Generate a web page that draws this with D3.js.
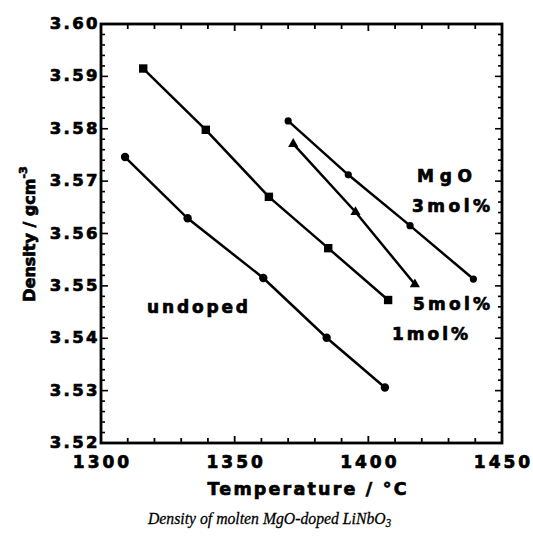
<!DOCTYPE html>
<html><head><meta charset="utf-8">
<script src="https://cdn.jsdelivr.net/npm/d3@7"></script>
<style>body{margin:0;background:#fff}svg{display:block}</style>
</head><body>
<svg id="c" width="533" height="538"></svg>
<script>
// ---- data ----
const undopedT = [1309, 1332.4, 1360.7, 1384.4, 1406.2];
const undopedD = [3.5746, 3.5629, 3.5515, 3.5401, 3.5306];
const mol1T = [1315.8, 1339.2, 1362.8, 1385.0, 1407.4];
const mol1D = [3.5915, 3.5798, 3.5670, 3.5572, 3.5473];
const mol3T = [1370.0, 1392.5, 1415.6, 1439.3];
const mol3D = [3.5815, 3.5712, 3.5615, 3.5513];
const mol5T = [1371.9, 1395.2, 1417.4];
const mol5D = [3.5771, 3.5641, 3.5503];
const xTickLabels = [1300, 1350, 1400, 1450];
const yTickLabels = [3.52, 3.53, 3.54, 3.55, 3.56, 3.57, 3.58, 3.59, 3.60];

const svg = d3.select("#c");
const x = d3.scaleLinear().domain([1300, 1450]).range([101, 502]);
const y = d3.scaleLinear().domain([3.52, 3.60]).range([443, 24]);
const FONT = "'DejaVu Sans', Verdana, sans-serif";

// minor / major ticks
const xMinor = d3.range(1300, 1451, 10);
const yMinor = d3.range(0, 41).map(i => 3.52 + i * 0.002);
const g = svg.append("g").attr("stroke", "#000").attr("fill", "none");
xMinor.forEach(v => {
  const L = (Math.round(v) % 50 === 0) ? 7 : 5;
  g.append("line").attr("x1", x(v)).attr("x2", x(v)).attr("y1", y(3.52)).attr("y2", y(3.52) - L).attr("stroke-width", 1.8);
  g.append("line").attr("x1", x(v)).attr("x2", x(v)).attr("y1", y(3.60)).attr("y2", y(3.60) + L).attr("stroke-width", 1.8);
});
yMinor.forEach((v, i) => {
  const L = (i % 5 === 0) ? 7 : 4;
  g.append("line").attr("x1", x(1300)).attr("x2", x(1300) + L).attr("y1", y(v)).attr("y2", y(v)).attr("stroke-width", 1.6);
  g.append("line").attr("x1", x(1450)).attr("x2", x(1450) - L).attr("y1", y(v)).attr("y2", y(v)).attr("stroke-width", 1.6);
});
// frame
svg.append("rect").attr("x", x(1300)).attr("y", y(3.60))
  .attr("width", x(1450) - x(1300)).attr("height", y(3.52) - y(3.60))
  .attr("fill", "none").attr("stroke", "#000").attr("stroke-width", 2.8);

const heavy = sel => sel.attr("font-family", FONT).attr("font-weight", "bold")
  .attr("stroke", "#000").attr("stroke-width", 0.7).attr("fill", "#000");

// tick labels
svg.append("g").selectAll("text").data(xTickLabels).join("text")
  .attr("x", d => x(d) + 1.5).attr("y", 468).attr("text-anchor", "middle")
  .attr("font-size", 17).attr("letter-spacing", 3).call(heavy).text(d => d);
svg.append("g").selectAll("text").data(yTickLabels).join("text")
  .attr("x", 100).attr("y", d => y(d) + 5).attr("text-anchor", "end")
  .attr("font-size", 16.5).attr("letter-spacing", 2.4).call(heavy).text(d => d.toFixed(2));

// axis titles
svg.append("text").attr("x", 307).attr("y", 495).attr("text-anchor", "middle")
  .attr("font-size", 17.5).attr("textLength", 199).attr("lengthAdjust", "spacing")
  .call(heavy).text("Temperature / °C");
const yt = svg.append("text").attr("transform", "translate(35,234) rotate(-90)")
  .attr("text-anchor", "middle").attr("font-size", 16).call(heavy);
yt.append("tspan").text("Density / gcm");
yt.append("tspan").attr("font-size", 11).attr("dy", -8).text("-3");

// lines + markers
const series = [
  {T: undopedT, D: undopedD, m: "circle", r: 4.2},
  {T: mol1T, D: mol1D, m: "square", r: 4.2},
  {T: mol3T, D: mol3D, m: "circle", r: 3.6},
  {T: mol5T, D: mol5D, m: "triangle", r: 4}
];
const line = d3.line().x(d => x(d[0])).y(d => y(d[1]));
series.forEach(s => {
  const pts = s.T.map((t, i) => [t, s.D[i]]);
  svg.append("path").attr("d", line(pts)).attr("fill", "none").attr("stroke", "#000").attr("stroke-width", 2.5);
  const sym = s.m === "circle" ? d3.symbolCircle : s.m === "square" ? d3.symbolSquare : d3.symbolTriangle;
  const size = s.m === "square" ? (2 * s.r) ** 2 : s.m === "circle" ? Math.PI * s.r * s.r : 45;
  svg.append("g").selectAll("path").data(pts).join("path")
    .attr("transform", d => `translate(${x(d[0])},${y(d[1])})`)
    .attr("d", d3.symbol().type(sym).size(size)).attr("fill", "#000");
});

// annotations
const ann = [
  {t: "undoped", x: 147, y: 313, w: 101},
  {t: "MgO", x: 417, y: 182, w: 55},
  {t: "3mol%", x: 412, y: 212, w: 78},
  {t: "5mol%", x: 413, y: 310, w: 77},
  {t: "1mol%", x: 392, y: 340, w: 76}
];
svg.append("g").selectAll("text").data(ann).join("text")
  .attr("x", d => d.x).attr("y", d => d.y).attr("textLength", d => d.w).attr("lengthAdjust", "spacing")
  .attr("font-size", 17).call(heavy).text(d => d.t);

// caption (slightly condensed serif italic)
const cap = svg.append("g").attr("transform", "translate(148,524) scale(0.9,1)")
  .append("text").attr("x", 0).attr("y", 0)
  .attr("font-family", "'Liberation Serif', 'Times New Roman', serif").attr("font-style", "italic")
  .attr("font-size", 17.5).attr("stroke", "#000").attr("stroke-width", 0.3);
cap.append("tspan").text("Density of molten MgO-doped LiNbO");
cap.append("tspan").attr("font-size", 12).attr("dy", 3).text("3");
</script>
</body></html>
